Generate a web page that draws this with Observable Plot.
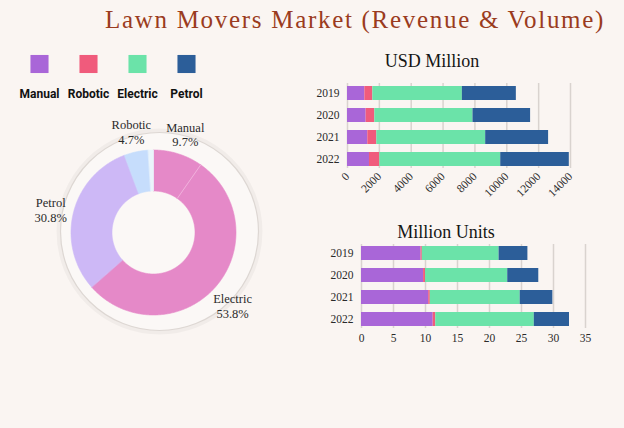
<!DOCTYPE html>
<html><head><meta charset="utf-8">
<script src="https://cdn.jsdelivr.net/npm/d3@7"></script>
<script src="https://cdn.jsdelivr.net/npm/@observablehq/plot@0.6"></script>
<style>
html,body{margin:0;padding:0;}
body{background:#faf5f2;width:624px;height:428px;overflow:hidden;position:relative;font-family:"Liberation Serif",serif;}
.abs{position:absolute;}
#title{left:105px;top:7px;font-size:25px;line-height:25px;letter-spacing:1.7px;color:#9a3b20;white-space:nowrap;}
.sub{font-size:18px;line-height:18px;color:#151515;text-align:center;width:200px;white-space:nowrap;}
#usdTitle{left:332px;top:52px;}
#unitsTitle{left:346px;top:223px;}
#legend{left:0;top:48px;}
#donut{left:20px;top:100px;}
#usd{left:300px;top:75px;}
#units{left:300px;top:240px;}
svg{overflow:visible;}
</style></head>
<body>
<div id="title" class="abs">Lawn Movers Market (Revenue &amp; Volume)</div>
<div id="usdTitle" class="abs sub">USD Million</div>
<div id="unitsTitle" class="abs sub">Million Units</div>
<div id="legend" class="abs"></div>
<div id="donut" class="abs"></div>
<div id="usd" class="abs"></div>
<div id="units" class="abs"></div>
<script>
// ---- data ----
const categories = ["Manual", "Robotic", "Electric", "Petrol"];
const categoryColors = ["#a966d8", "#f05b7c", "#6be3a9", "#2c5e99"];
const years = ["2019", "2020", "2021", "2022"];

const revenueManual   = [1090, 1170, 1275, 1380];
const revenueRobotic  = [500, 545, 565, 650];
const revenueElectric = [5620, 6165, 6835, 7590];
const revenuePetrol   = [3390, 3615, 3950, 4305];
const revenueTicks = [0, 2000, 4000, 6000, 8000, 10000, 12000, 14000];

const volumeManual   = [9.3, 9.7, 10.5, 11.2];
const volumeRobotic  = [0.2, 0.3, 0.25, 0.4];
const volumeElectric = [12.0, 12.85, 14.05, 15.4];
const volumePetrol   = [4.5, 4.85, 5.1, 5.5];
const volumeTicks = [0, 5, 10, 15, 20, 25, 30, 35];

const shareLabels = ["Manual", "Electric", "Petrol", "Robotic"];
const shareValues = [9.7, 53.8, 30.8, 4.7];
const shareColors = ["#e589c8", "#e589c8", "#cdb8f6", "#c6ddfc"];
const shareRestColor = "#eaf4fb";

const serif = "Liberation Serif, serif";

// ---- legend ----
document.getElementById("legend").append(Plot.plot({
  width: 230, height: 60, margin: 0,
  style: {background: "transparent"},
  x: {type: "point", domain: categories, range: [38, 187], padding: 0, axis: null},
  color: {domain: categories, range: categoryColors},
  marks: [
    Plot.dot(categories, {x: d => d, fill: d => d, symbol: "square", r: 10.2, frameAnchor: "top", dy: 15.5}),
    Plot.text(categories, {x: d => d, text: d => d, frameAnchor: "top", dy: 40.5,
      fontFamily: "Roboto, sans-serif", fontWeight: "bold", fontSize: 12, fill: "#111"})
  ]
}));

// ---- donut ----
const R = 82.5, R0 = 41.5;
const sumShares = d3.sum(shareValues);
let acc = 0;
const slices = shareValues.map((v, i) => {
  const s = {key: i, label: shareLabels[i], value: v, color: shareColors[i],
    a0: acc / 100 * 2 * Math.PI, a1: (acc + v) / 100 * 2 * Math.PI};
  acc += v;
  return s;
});
const allArcs = slices.concat([{key: 99, color: shareRestColor, a0: sumShares / 100 * 2 * Math.PI, a1: 2 * Math.PI}]);
function arcPoints(s) {
  const pts = [];
  const n = Math.max(2, Math.ceil((s.a1 - s.a0) / 0.01));
  for (let i = 0; i <= n; i++) {
    const a = s.a0 + (s.a1 - s.a0) * i / n;
    pts.push({k: s.key, c: s.color, x: R * Math.sin(a), y: R * Math.cos(a)});
  }
  for (let i = n; i >= 0; i--) {
    const a = s.a0 + (s.a1 - s.a0) * i / n;
    pts.push({k: s.key, c: s.color, x: R0 * Math.sin(a), y: R0 * Math.cos(a)});
  }
  return pts;
}
const donutPts = allArcs.flatMap(arcPoints);
const labelR = 106;

document.getElementById("donut").append(Plot.plot({
  width: 280, height: 250, margin: 0,
  style: {background: "transparent"},
  x: {type: "linear", domain: [-133, 147], range: [0, 280], axis: null},
  y: {type: "linear", domain: [132, -118], range: [0, 250], axis: null},
  color: {type: "identity"},
  marks: [
    Plot.dot([0], {x: () => 6, y: () => 1, r: 100.5, fill: "none", stroke: "#000", strokeOpacity: 0.035, strokeWidth: 5}),
    Plot.dot([0], {x: () => 6, y: () => 1, r: 99, fill: "#fbf8f6", stroke: "#ddd7d3", strokeWidth: 1.2}),
    Plot.line(donutPts, {x: "x", y: "y", z: "k", fill: "c", stroke: "c", strokeWidth: 0.6, curve: "linear-closed"}),
    Plot.link([slices[1]], {
      x1: s => R0 * Math.sin(s.a0), y1: s => R0 * Math.cos(s.a0),
      x2: s => R * Math.sin(s.a0), y2: s => R * Math.cos(s.a0),
      stroke: "#f2b8e0", strokeWidth: 0.8}),
    Plot.text(slices, {
      x: s => labelR * Math.sin((s.a0 + s.a1) / 2),
      y: s => labelR * Math.cos((s.a0 + s.a1) / 2),
      dy: 3,
      text: s => `${s.label}\n${s.value}%`,
      lineHeight: 1.18, fontSize: 12.5, fontFamily: serif, fill: "#2a2a2a"})
  ]
}));

// ---- stacked bars ----
function longData(series) {
  const out = [];
  years.forEach((y, i) => categories.forEach((c, j) => out.push({year: y, category: c, value: series[j][i]})));
  return out;
}
const revenueData = longData([revenueManual, revenueRobotic, revenueElectric, revenuePetrol]);
const volumeData = longData([volumeManual, volumeRobotic, volumeElectric, volumePetrol]);

document.getElementById("usd").append(Plot.plot({
  width: 300, height: 130,
  marginLeft: 47, marginRight: 30, marginTop: 8, marginBottom: 37,
  style: {background: "transparent", fontFamily: serif, fontSize: "11.5px", color: "#2a2a2a"},
  x: {domain: [0, 14000]},
  y: {domain: years, paddingInner: 0.37, paddingOuter: 0.09},
  color: {domain: categories, range: categoryColors},
  marks: [
    Plot.gridX(revenueTicks, {stroke: "#d9d3cf", strokeOpacity: 1, strokeWidth: 1.5}),
    Plot.barX(revenueData, {x: "value", y: "year", fill: "category"}),
    Plot.axisX(revenueTicks, {tickRotate: -45, tickSize: 0, tickPadding: 6, label: null, tickFormat: d => String(d), fontSize: 11.5}),
    Plot.axisY({tickSize: 0, tickPadding: 8, label: null, fontSize: 11.5})
  ]
}));

document.getElementById("units").append(Plot.plot({
  width: 300, height: 110,
  marginLeft: 61, marginRight: 15, marginTop: 4, marginBottom: 22,
  style: {background: "transparent", fontFamily: serif, fontSize: "11.5px", color: "#2a2a2a"},
  x: {domain: [0, 35]},
  y: {domain: years, paddingInner: 0.37, paddingOuter: 0.09},
  color: {domain: categories, range: categoryColors},
  marks: [
    Plot.gridX(volumeTicks, {stroke: "#d9d3cf", strokeOpacity: 1, strokeWidth: 1.5}),
    Plot.barX(volumeData, {x: "value", y: "year", fill: "category"}),
    Plot.axisX(volumeTicks, {tickSize: 0, tickPadding: 5, label: null, fontSize: 11.5}),
    Plot.axisY({tickSize: 0, tickPadding: 8, label: null, fontSize: 11.5})
  ]
}));
</script>
</body></html>
